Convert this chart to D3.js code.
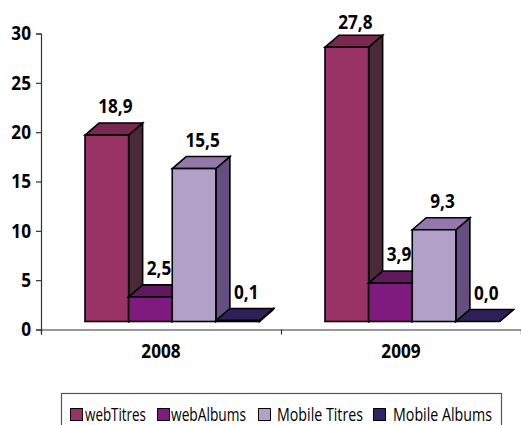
<!DOCTYPE html>
<html>
<head>
<meta charset="utf-8">
<script src="https://cdn.jsdelivr.net/npm/d3@7"></script>
<style>
  html, body { margin: 0; padding: 0; background: #fff; overflow: hidden; }
  text { font-family: "Open Sans", "Liberation Sans", sans-serif; fill: #000; }
</style>
</head>
<body>
<script>
// values
let years = ['2008', '2009'];
let seriesNames = ['webTitres', 'webAlbums', 'Mobile Titres', 'Mobile Albums'];
let webTitres = [18.9, 27.8];
let webAlbums = [2.5, 3.9];
let mobileTitres = [15.5, 9.3];
let mobileAlbums = [0.1, 0.0];
let allSeries = [webTitres, webAlbums, mobileTitres, mobileAlbums];
let yTicks = [0, 5, 10, 15, 20, 25, 30];

let frontColors = ['#993366', '#7f1a7f', '#b3a0c8', '#2f2468'];
let topColors = ['#7a2850', '#60185f', '#9478ab', '#2e2058'];
let sideColors = ['#4a2a36', '#4a1a4c', '#644f80', '#241848'];

let w = 521;
let h = 425;
let depthX = 14;   // 3d shift of the back face
let depthY = 12;
let floorGap = 8;  // front of the bars sits above the axis line

// no condensed font installed, so squeeze the glyphs to the original width
let squeeze = (sel, k) => sel.each(function () {
  d3.select(this)
    .attr('lengthAdjust', 'spacingAndGlyphs')
    .attr('textLength', this.getComputedTextLength() * k);
});

let svg = d3.select('body').append('svg')
  .attr('width', w)
  .attr('height', h)
  .style('display', 'block');

let y = d3.scaleLinear().domain([0, 30]).range([329.5, 33.5]);
let xGroup = d3.scaleBand().domain(years).range([41, 521]);
let xBar = d3.scaleBand().domain(d3.range(4)).range([44, 218.5]);
let xEdges = d3.scaleLinear().domain([0, 2]).range([41, 521]);

// bars, drawn left to right so that each one covers the side of the previous
let groups = svg.selectAll('g.group')
  .data(years)
  .enter()
  .append('g')
  .attr('class', 'group')
  .attr('transform', d => 'translate(' + xGroup(d) + ',0)');

groups.each(function (year, yi) {
  let g = d3.select(this);
  allSeries.forEach((values, si) => {
    let v = values[yi];
    let x0 = xBar(si);
    let x1 = x0 + xBar.bandwidth();
    let yBase = y(0) - floorGap;
    let yTop = yBase - (y(0) - y(v));
    let bar = g.append('g')
      .attr('stroke', '#000')
      .attr('stroke-width', 1.6)
      .attr('stroke-linejoin', 'miter');

    bar.append('polygon')
      .attr('fill', sideColors[si])
      .attr('points', [[x1, yTop], [x1 + depthX, yTop - depthY], [x1 + depthX, yBase - depthY], [x1, yBase]].join(' '));
    bar.append('polygon')
      .attr('fill', topColors[si])
      .attr('points', [[x0, yTop], [x0 + depthX, yTop - depthY], [x1 + depthX, yTop - depthY], [x1, yTop]].join(' '));
    bar.append('rect')
      .attr('x', x0)
      .attr('y', yTop)
      .attr('width', x1 - x0)
      .attr('height', yBase - yTop)
      .attr('fill', frontColors[si]);
  });
});

// value labels go on top so the bars never hide them
groups.each(function (year, yi) {
  let g = d3.select(this);
  allSeries.forEach((values, si) => {
    let v = values[yi];
    let yTop = y(0) - floorGap - (y(0) - y(v));
    g.append('text')
      .attr('x', xBar(si) + xBar.bandwidth() / 2 + 8.5)
      .attr('y', Math.max(29, yTop - 22))  // tallest label is held back by the top of the chart
      .attr('text-anchor', 'middle')
      .attr('font-size', 19.5)
      .attr('font-weight', 'bold')
      .text(v.toFixed(1).replace('.', ','))
      .call(squeeze, 0.88);
  });
});

// axes
let yAxis = d3.axisLeft(y).tickValues(yTicks).tickSize(5).tickPadding(5);
let yG = svg.append('g').attr('transform', 'translate(41,0)').call(yAxis);
yG.selectAll('text')
  .attr('font-size', 19.5).attr('font-weight', 'bold').attr('font-family', null)
  .call(squeeze, 0.88);

let xEdgeAxis = d3.axisBottom(xEdges).tickValues([0, 1, 2]).tickSize(5).tickFormat('');
svg.append('g').attr('transform', 'translate(0,' + y(0) + ')').call(xEdgeAxis);

let xAxis = d3.axisBottom(xGroup).tickSize(0).tickPadding(15);
let xG = svg.append('g').attr('transform', 'translate(0,' + y(0) + ')').call(xAxis);
xG.select('.domain').remove();
xG.selectAll('text')
  .attr('font-size', 19.5).attr('font-weight', 'bold').attr('font-family', null)
  .call(squeeze, 0.88);

svg.selectAll('.domain, .tick line').attr('stroke', '#333').attr('stroke-width', 1.2);
svg.selectAll('.tick text').attr('fill', '#000');

// legend, its bottom runs off the picture like in the original
svg.append('rect')
  .attr('x', 61.5).attr('y', 393.5)
  .attr('width', 440).attr('height', 40)
  .attr('fill', '#fff')
  .attr('stroke', '#555')
  .attr('stroke-width', 1.2);

let legendSwatchX = [70, 157, 258, 373];
let legendTextX = [85, 171, 277, 393];
let legendTextW = [61, 75, 86, 99];

seriesNames.forEach((name, i) => {
  svg.append('rect')
    .attr('x', legendSwatchX[i] + 0.5).attr('y', 408.5)
    .attr('width', 12).attr('height', 12)
    .attr('fill', frontColors[i])
    .attr('stroke', '#000');
  svg.append('text')
    .attr('x', legendTextX[i])
    .attr('y', 421)
    .attr('font-size', 18)
    .attr('lengthAdjust', 'spacingAndGlyphs')
    .attr('textLength', legendTextW[i])
    .text(name);
});
</script>
</body>
</html>
